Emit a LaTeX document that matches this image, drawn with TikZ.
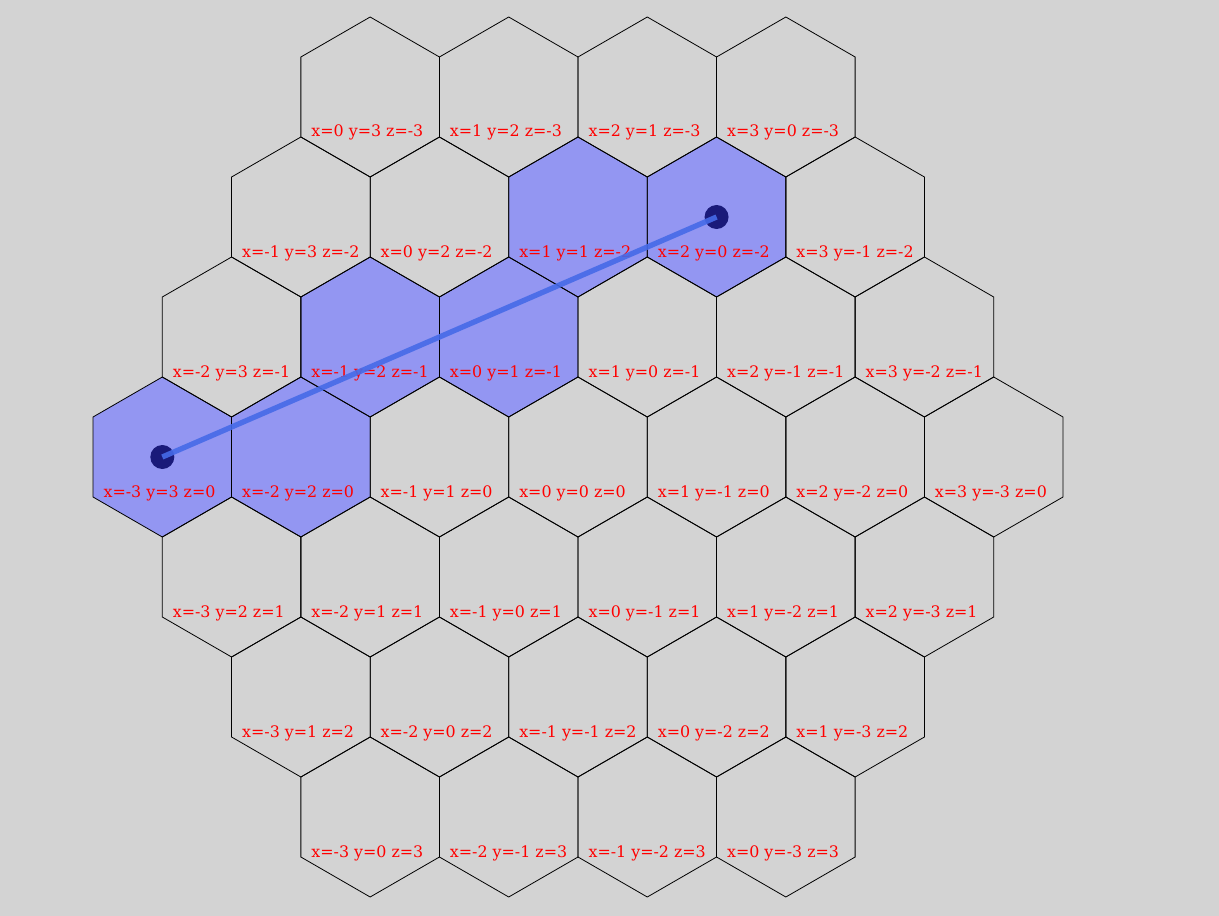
\documentclass[tikz,border=0pt]{standalone}
\usepackage{fontspec}
\setmainfont{DejaVu Serif}
\definecolor{bgc}{RGB}{211,211,211}
\definecolor{hlc}{RGB}{147,150,242}
\definecolor{linec}{RGB}{70,106,232}
\definecolor{dotc}{RGB}{26,26,122}
\definecolor{lblc}{RGB}{255,0,0}
\tikzset{
  hexfill/.style={fill=hlc},
  hexline/.style={draw=black,line width=0.6pt,line join=miter},
  lbl/.style={text=lblc,font=\fontsize{11.9pt}{14pt}\selectfont,anchor=base west,inner sep=0pt},
  dotnode/.style={circle,fill=dotc,inner sep=0pt,minimum size=18pt},
  pathline/.style={draw=linec,line width=4pt,opacity=0.9}
}
\newcommand{\hexpath}{(0,-80) -- (69.282,-40) -- (69.282,40) -- (0,80) -- (-69.282,40) -- (-69.282,-40) -- cycle}
\begin{document}
\begin{tikzpicture}[x=0.75pt,y=-0.75pt]
\fill[bgc] (0,0) rectangle (1219,916);
\useasboundingbox (0,0) rectangle (1219,916);
% highlighted hexes
\foreach \q/\r in {-3/0,-2/0,-1/-1,0/-1,1/-2,2/-2}{
  \fill[hexfill,shift={({578+138.564*(\q+\r/2)},{457+120*\r})}] \hexpath;
}
% grid
\foreach \q in {-3,...,3}{
  \foreach \r in {-3,...,3}{
    \pgfmathtruncatemacro\s{-\q-\r}
    \ifnum\s<-3\relax\else\ifnum\s>3\relax\else
      \draw[hexline,shift={({578+138.564*(\q+\r/2)},{457+120*\r})}] \hexpath;
      \node[lbl] (L\q_\r) at ({578+138.564*(\q+\r/2)-59},{457+120*\r+40}) {x=\q{} y=\s{} z=\r};
    \fi\fi
  }
}
% path
\node[dotnode] (A) at ({578-3*138.564},457) {};
\node[dotnode] (B) at ({578+138.564},217) {};
\draw[pathline] (A.center) -- (B.center);
\end{tikzpicture}
\end{document}
